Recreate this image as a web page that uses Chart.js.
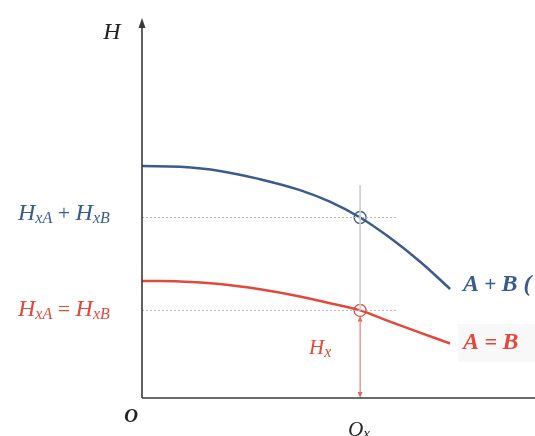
<!DOCTYPE html>
<html>
<head>
<meta charset="utf-8">
<script src="https://cdn.jsdelivr.net/npm/chart.js@4/dist/chart.umd.min.js"></script>
<style>
html,body{margin:0;padding:0;background:#fff;}
#wrap{width:535px;height:436px;}
</style>
</head>
<body>
<div id="wrap"><canvas id="c" width="535" height="436"></canvas></div>
<script>
// ---- data (arbitrary units) ----
const flowQ      = [0, 9.7, 19.8, 30.0, 40.2, 47.8, 55.5, 63.1, 70.7, 78.4];
const headAplusB = [61.7, 61.5, 60.4, 58.2, 55.3, 52.2, 48.0, 42.6, 36.3, 29.0];
const headAeqB   = [31.1, 31.0, 30.3, 28.9, 27.0, 25.2, 23.3, 20.3, 17.4, 14.5];
const operQ      = 55.5;   // Qx
const operHBoth  = 48.0;   // HxA + HxB
const operHOne   = 23.3;   // HxA = HxB
const guideEndQ  = 64.8;
const guideTopH  = 56.6;

const BLUE = '#3b5b8e';
const RED  = '#e2483c';
const SERIF = '"Liberation Serif","DejaVu Serif",serif';

const toPts = (xs, ys) => xs.map((x, i) => ({x, y: ys[i]}));

function rich(ctx, x, y, parts, color, align) {
  ctx.save();
  ctx.fillStyle = color;
  ctx.textBaseline = 'alphabetic';
  let w = 0;
  parts.forEach(p => { ctx.font = p.f; w += ctx.measureText(p.t).width; });
  let cx = align === 'center' ? x - w / 2 : x;
  parts.forEach(p => {
    ctx.font = p.f;
    ctx.fillText(p.t, cx, y + (p.dy || 0));
    cx += ctx.measureText(p.t).width;
  });
  ctx.restore();
}

const overlay = {
  id: 'overlay',
  beforeDatasetsDraw(chart) {
    const {ctx} = chart;
    ctx.save();
    ctx.fillStyle = '#f8f8f8';
    ctx.fillRect(458, 324, 77, 38);
    ctx.restore();
  },
  afterDatasetsDraw(chart) {
    const {ctx, scales: {x, y}} = chart;
    const x0 = x.getPixelForValue(0), y0 = y.getPixelForValue(0);
    ctx.save();
    // red arrow Hx
    const ax = x.getPixelForValue(operQ);
    const ay = y.getPixelForValue(operHOne) + 6;
    ctx.strokeStyle = '#e0685c'; ctx.fillStyle = '#e0685c'; ctx.lineWidth = 1;
    ctx.beginPath(); ctx.moveTo(ax, ay); ctx.lineTo(ax, y0 - 3); ctx.stroke();
    ctx.beginPath(); ctx.moveTo(ax - 2.5, y0 - 6); ctx.lineTo(ax + 2.5, y0 - 6); ctx.lineTo(ax, y0); ctx.closePath(); ctx.fill();
    ctx.beginPath(); ctx.moveTo(ax - 2.5, ay + 5); ctx.lineTo(ax + 2.5, ay + 5); ctx.lineTo(ax, ay); ctx.closePath(); ctx.fill();
    // axes
    ctx.strokeStyle = '#3a3a3a'; ctx.fillStyle = '#3a3a3a'; ctx.lineWidth = 1.6;
    ctx.beginPath(); ctx.moveTo(x0, y0); ctx.lineTo(x0, 26); ctx.stroke();
    ctx.beginPath(); ctx.moveTo(x0, 18); ctx.lineTo(x0 - 3.5, 28); ctx.lineTo(x0 + 3.5, 28); ctx.closePath(); ctx.fill();
    ctx.beginPath(); ctx.moveTo(x0, y0); ctx.lineTo(535, y0); ctx.stroke();
    ctx.restore();

    const it = s => 'italic ' + s + 'px ' + SERIF;
    const bi = s => 'italic bold ' + s + 'px ' + SERIF;
    const rg = s => s + 'px ' + SERIF;
    rich(ctx, 112, 39, [{t: 'H', f: it(24)}], '#222', 'center');
    rich(ctx, 18, 220, [{t: 'H', f: it(24)}, {t: 'xA', f: it(16), dy: 3}, {t: ' + ', f: rg(22)},
                        {t: 'H', f: it(24)}, {t: 'xB', f: it(16), dy: 3}], BLUE);
    rich(ctx, 18, 316, [{t: 'H', f: it(24)}, {t: 'xA', f: it(16), dy: 3}, {t: ' = ', f: rg(22)},
                        {t: 'H', f: it(24)}, {t: 'xB', f: it(16), dy: 3}], RED);
    rich(ctx, 309, 354, [{t: 'H', f: it(21)}, {t: 'x', f: it(16), dy: 3}], RED);
    rich(ctx, 131, 422, [{t: 'O', f: bi(19)}], '#222', 'center');
    rich(ctx, 348, 436, [{t: 'Q', f: it(21)}, {t: 'x', f: it(15), dy: 2}], '#222');
    rich(ctx, 463, 291, [{t: 'A', f: bi(24)}, {t: ' + ', f: bi(21)}, {t: 'B', f: bi(24)}, {t: ' (', f: bi(24)}], BLUE);
    rich(ctx, 463, 349, [{t: 'A', f: bi(24)}, {t: ' = ', f: bi(22)}, {t: 'B', f: bi(24)}], RED);
  }
};

const dotted = {borderColor: '#b5b5b5', borderWidth: 1, borderDash: [2, 2], pointRadius: 0, showLine: true, fill: false};

new Chart(document.getElementById('c'), {
  type: 'scatter',
  data: {
    datasets: [
      Object.assign({data: [{x: 0, y: operHBoth}, {x: guideEndQ, y: operHBoth}]}, dotted),
      Object.assign({data: [{x: 0, y: operHOne}, {x: guideEndQ, y: operHOne}]}, dotted),
      {data: [{x: operQ, y: guideTopH}, {x: operQ, y: operHOne}], borderColor: '#cfcfcf', borderWidth: 1, pointRadius: 0, showLine: true},
      {data: toPts(flowQ, headAplusB), borderColor: BLUE, borderWidth: 2.5, pointRadius: 0, showLine: true, tension: 0.4},
      {data: toPts(flowQ, headAeqB), borderColor: RED, borderWidth: 2.5, pointRadius: 0, showLine: true, tension: 0.4},
      {data: [{x: operQ, y: operHBoth}], pointRadius: 6, pointBackgroundColor: '#fff', pointBorderColor: BLUE, pointBorderWidth: 1.3},
      {data: [{x: operQ, y: operHOne}], pointRadius: 6, pointBackgroundColor: '#fff', pointBorderColor: RED, pointBorderWidth: 1.3}
    ]
  },
  options: {
    responsive: false,
    animation: false,
    devicePixelRatio: 1,
    layout: {autoPadding: false, padding: {left: 142, right: 0, top: 22, bottom: 38}},
    plugins: {legend: {display: false}, tooltip: {enabled: false}},
    scales: {
      x: {type: 'linear', min: 0, max: 100, display: false},
      y: {type: 'linear', min: 0, max: 100, display: false}
    }
  },
  plugins: [overlay]
});
</script>
</body>
</html>
